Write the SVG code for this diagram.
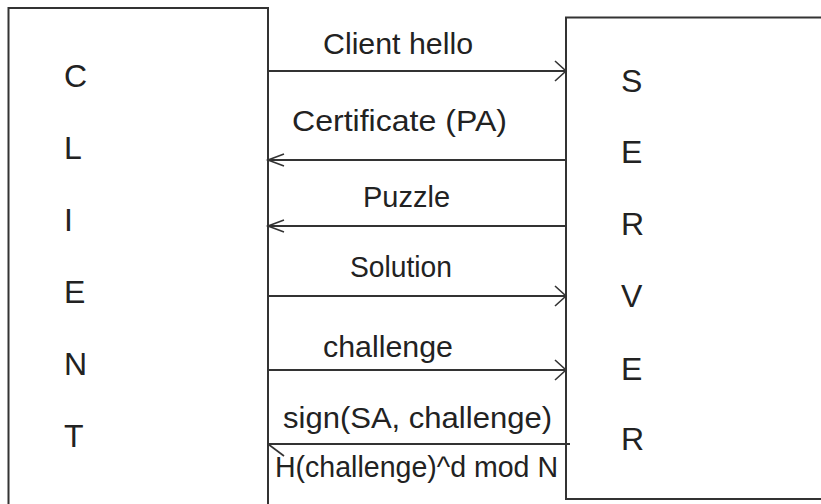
<svg xmlns="http://www.w3.org/2000/svg" width="821" height="504" viewBox="0 0 821 504">
<style>
  .box{fill:#fff;stroke:#333;stroke-width:2}
  .ln{fill:none;stroke:#333;stroke-width:2}
  .hd{fill:none;stroke:#333;stroke-width:1.6}
  .lbl{font-family:"Liberation Sans",Arial,sans-serif;font-size:30px;fill:#222}
  .big{font-family:"Liberation Sans",Arial,sans-serif;font-size:32px;fill:#222}
</style>
<defs>
  <marker id="ar" markerUnits="userSpaceOnUse" markerWidth="20" markerHeight="26" refX="14" refY="12" orient="auto" viewBox="0 0 20 26">
    <path d="M3,2 L14,12 L3,22" class="hd"/>
  </marker>
  <marker id="al" markerUnits="userSpaceOnUse" markerWidth="22" markerHeight="20" refX="18" refY="9" orient="auto" viewBox="0 0 22 20">
    <path d="M2,3 L18,9 L2,15" class="hd"/>
  </marker>
  <marker id="alu" markerUnits="userSpaceOnUse" markerWidth="22" markerHeight="20" refX="18" refY="14" orient="auto" viewBox="0 0 22 20">
    <path d="M2,2 L18,14" class="hd"/>
  </marker>
</defs>
<rect width="821" height="504" fill="#fff"/>
<g id="client">
  <rect class="box" x="8.5" y="8" width="259.5" height="510"/>
  <text class="big" x="64" y="87">C</text>
  <text class="big" x="64" y="159">L</text>
  <text class="big" x="64" y="231">I</text>
  <text class="big" x="64" y="303">E</text>
  <text class="big" x="64" y="375">N</text>
  <text class="big" x="64" y="447">T</text>
</g>
<g id="server">
  <rect class="box" x="566" y="17.5" width="270" height="481.5"/>
  <text class="big" x="621" y="92">S</text>
  <text class="big" x="621" y="163">E</text>
  <text class="big" x="621" y="235">R</text>
  <text class="big" x="621" y="307">V</text>
  <text class="big" x="621" y="380">E</text>
  <text class="big" x="621" y="450">R</text>
</g>
<g id="connectors">
  <line class="ln" x1="268" y1="71" x2="566" y2="71" marker-end="url(#ar)"/>
  <line class="ln" x1="566" y1="160" x2="268" y2="160" marker-end="url(#al)"/>
  <line class="ln" x1="566" y1="226" x2="268" y2="226" marker-end="url(#al)"/>
  <line class="ln" x1="268" y1="296" x2="566" y2="296" marker-end="url(#ar)"/>
  <line class="ln" x1="268" y1="370" x2="566" y2="370" marker-end="url(#ar)"/>
  <line class="ln" x1="570" y1="444" x2="268" y2="444" marker-end="url(#alu)"/>
</g>
<g id="labels">
  <text class="lbl" x="323" y="54" textLength="150" lengthAdjust="spacingAndGlyphs">Client hello</text>
  <text class="lbl" x="292" y="131" textLength="215" lengthAdjust="spacingAndGlyphs">Certificate (PA)</text>
  <text class="lbl" x="363" y="207" textLength="87" lengthAdjust="spacingAndGlyphs">Puzzle</text>
  <text class="lbl" x="350" y="277" textLength="102" lengthAdjust="spacingAndGlyphs">Solution</text>
  <text class="lbl" x="323" y="357" textLength="130" lengthAdjust="spacingAndGlyphs">challenge</text>
  <text class="lbl" x="283" y="428" textLength="269" lengthAdjust="spacingAndGlyphs">sign(SA, challenge)</text>
  <text class="lbl" x="275" y="477" textLength="283" lengthAdjust="spacingAndGlyphs">H(challenge)^d mod N</text>
</g>
</svg>
